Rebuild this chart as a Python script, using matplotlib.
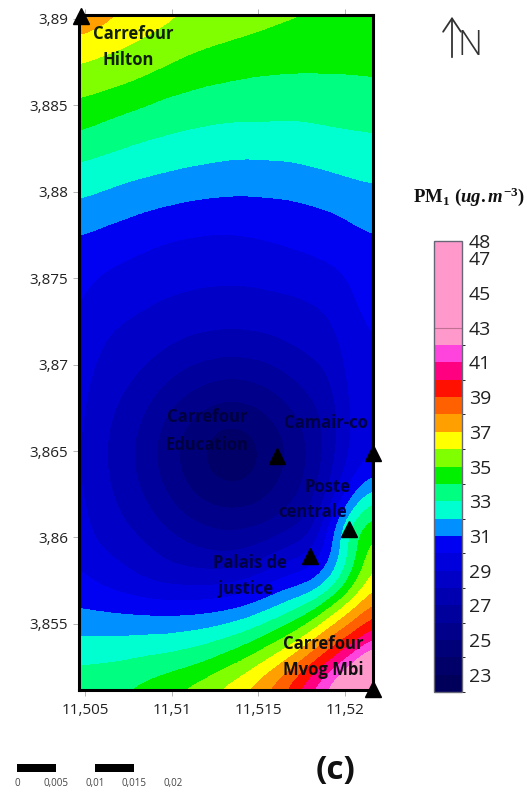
import numpy as np
import matplotlib
matplotlib.use("Agg")
import matplotlib.pyplot as plt
from matplotlib.colors import ListedColormap, BoundaryNorm
from matplotlib.cm import ScalarMappable
from matplotlib.patches import FancyArrowPatch

W, H = 527, 792

# PM1 field, one list per longitude column (north to south)
col_01 = [38.0,36.7,35.9,35.1,34.3,33.4,32.6,31.9,31.1,30.6,30.3,30.0,29.8,29.6,29.4,29.3,29.2,29.2,29.3,29.5,29.8,30.3,31.0,32.0,32.9,33.8]
col_02 = [37.5,36.4,35.7,34.9,34.0,33.2,32.4,31.7,30.9,30.4,29.75,29.4,29.1,28.8,28.5,28.35,28.2,28.25,28.4,28.6,29.2,29.9,30.9,32.0,33.0,33.9]
col_03 = [37.0,36.2,35.5,34.7,33.7,33.0,32.2,31.5,30.7,30.1,29.55,29.2,28.8,28.45,28.1,27.75,27.55,27.6,27.9,28.2,28.8,29.5,30.8,32.0,33.1,34.0]
col_04 = [36.6,35.9,35.3,34.4,33.5,32.8,32.05,31.25,30.5,29.9,29.4,29.0,28.55,28.1,27.5,27.0,26.65,26.75,27.15,27.75,28.4,29.1,30.7,32.1,33.3,34.3]
col_05 = [36.3,35.65,35.0,34.05,33.35,32.65,31.9,31.1,30.3,29.7,29.25,28.8,28.3,27.6,26.8,26.05,25.65,25.8,26.35,27.1,27.9,28.8,30.6,32.1,33.5,34.7]
col_06 = [36.0,35.4,34.7,33.9,33.2,32.5,31.75,30.95,30.15,29.6,29.15,28.6,28.0,27.15,26.1,25.15,24.75,24.85,25.5,26.55,27.5,28.7,30.6,32.3,33.7,35.2]
col_07 = [35.8,35.2,34.45,33.75,33.1,32.4,31.65,30.85,30.05,29.6,29.05,28.5,27.85,26.8,25.6,24.55,23.9,24.1,24.9,26.1,27.2,28.7,30.7,32.5,34.1,35.7]
col_08 = [35.65,35.0,34.35,33.65,33.0,32.3,31.55,30.8,30.0,29.6,29.0,28.45,27.75,26.6,25.3,24.2,23.3,23.6,24.65,25.85,27.1,28.8,30.9,32.9,34.7,36.4]
col_09 = [35.5,34.85,34.2,33.6,33.0,32.25,31.5,30.8,30.05,29.7,29.0,28.45,27.8,26.65,25.4,24.3,23.5,23.75,24.7,25.95,27.3,29.2,31.3,33.4,35.4,37.1]
col_10 = [35.3,34.7,34.15,33.55,33.0,32.3,31.55,30.85,30.1,29.8,29.1,28.55,27.9,26.9,25.8,24.8,24.3,24.45,25.1,26.25,27.9,29.9,31.9,34.2,36.4,38.1]
col_11 = [35.15,34.6,34.1,33.55,32.95,32.3,31.6,30.9,30.2,29.9,29.2,28.65,28.15,27.35,26.4,25.55,25.1,25.2,25.85,26.8,28.6,30.5,32.7,35.1,37.5,39.3]
col_12 = [35.05,34.55,34.1,33.55,33.0,32.4,31.75,31.05,30.3,30.0,29.3,28.85,28.4,27.8,27.1,26.5,26.1,26.2,26.65,27.45,29.2,30.8,33.6,36.5,38.9,41.0]
col_13 = [34.95,34.5,34.1,33.6,33.1,32.5,31.9,31.25,30.45,30.2,29.45,29.1,28.65,28.2,27.75,27.4,27.6,27.9,28.7,30.7,30.8,32.1,35.4,38.0,40.4,42.5]
col_14 = [34.9,34.5,34.1,33.65,33.15,32.6,32.05,31.45,30.85,30.4,30.1,29.9,29.7,29.5,29.4,29.3,29.3,29.8,31.4,33.7,33.5,34.5,37.0,39.2,41.9,44.5]
col_15 = [34.85,34.45,34.15,33.7,33.2,32.7,32.15,31.6,31.05,30.7,30.4,30.2,30.0,29.9,29.8,29.8,30.0,30.7,33.1,34.7,35.8,36.6,38.4,40.6,44.0,47.5]
columns = [col_01,col_02,col_03,col_04,col_05,col_06,col_07,col_08,col_09,col_10,col_11,col_12,col_13,col_14,col_15]

levels = [22,23,24,25,26,27,28,29,30,31,32,33,34,35,36,37,38,39,40,41,42,43,48]
band_colors = ["#00005a","#000068","#000078","#00008a","#00009c","#0000b0","#0000c6","#0000dc","#0000f2",
               "#0090ff","#00ffd0","#00ff80","#00f000","#80ff00","#ffff00","#ffa000","#ff6000","#ff1000",
               "#ff0080","#ff44dd","#ff99cc","#ff99cc"]
cbar_ticks = [48,47,45,43,41,39,37,35,33,31,29,27,25,23]

x_ticks = [11.505, 11.51, 11.515, 11.52]
x_tick_labels = ["11,505", "11,51", "11,515", "11,52"]
y_ticks = [3.855, 3.86, 3.865, 3.87, 3.875, 3.88, 3.885, 3.89]
y_tick_labels = ["3,855", "3,86", "3,865", "3,87", "3,875", "3,88", "3,885", "3,89"]

station_lon = [11.50475, 11.5161, 11.52161, 11.5202, 11.5180, 11.52161]
station_lat = [3.8902, 3.8647, 3.8649, 3.8605, 3.8589, 3.8512]

scale_values = [0, 0.005, 0.01, 0.015, 0.02]
scale_labels = ["0", "0,005", "0,01", "0,015", "0,02"]

SANS = ["Open Sans", "DejaVu Sans"]
plt.rcParams["font.family"] = SANS
plt.rcParams["mathtext.fontset"] = "custom"
plt.rcParams["mathtext.rm"] = "Liberation Serif:bold"
plt.rcParams["mathtext.it"] = "Liberation Serif:italic:bold"

fig = plt.figure(figsize=(W/100, H/100), dpi=100, facecolor="white")

def box(x0, y0, x1, y1):
    return [x0/W, 1-y1/H, (x1-x0)/W, (y1-y0)/H]

def txt(x, y, s, **kw):
    kw.setdefault("ha", "center")
    kw.setdefault("va", "center")
    return fig.text(x/W, 1-y/H, s, **kw)

# Map
ax = fig.add_axes(box(79, 15, 373, 690))
lon0, lon1, lat0, lat1 = 11.50465, 11.52161, 3.85117, 3.89023
Z = np.array(columns).T
dx = (lon1-lon0)/(Z.shape[1]-1)
dy = (lat1-lat0)/(Z.shape[0]-1)
cmap = ListedColormap(band_colors)
norm = BoundaryNorm(levels, cmap.N)
ax.imshow(Z, extent=[lon0-dx/2, lon1+dx/2, lat0-dy/2, lat1+dy/2], origin="upper",
          cmap=cmap, norm=norm, interpolation="bicubic", interpolation_stage="data", aspect="auto")
ax.set_xlim(lon0, lon1)
ax.set_ylim(lat0, lat1)
ax.set_xticks(x_ticks, x_tick_labels)
ax.set_yticks(y_ticks, y_tick_labels)
ax.tick_params(axis="both", length=4, width=0.5, color="#999999", labelsize=11,
               labelcolor="#222222", top=True)
ax.tick_params(axis="y", pad=4)
ax.tick_params(axis="x", pad=5)
for s in ax.spines.values():
    s.set_linewidth(2.2)
    s.set_color("black")
ax.plot(station_lon, station_lat, ls="none", marker="^", ms=12, color="black", clip_on=False, zorder=5)

# Site labels
for x, y, s, c in [(133, 34, "Carrefour", "#102000"), (128, 60, "Hilton", "#102000"),
                   (207, 417, "Carrefour", "#000040"), (207, 445, "Education", "#000040"),
                   (326, 423, "Camair-co", "#000045"), (328, 487, "Poste", "#000045"),
                   (313, 512, "centrale", "#000045"), (250, 563, "Palais de", "#000045"),
                   (246, 589, "justice", "#000045"), (323, 644, "Carrefour", "#101010"),
                   (323, 670, "Mvog Mbi", "#101010")]:
    txt(x, y, s, fontsize=12, fontweight="bold", color=c)

# Colour bar
cax = fig.add_axes(box(434, 241, 462, 692))
sm = ScalarMappable(norm=norm, cmap=cmap)
cb = fig.colorbar(sm, cax=cax, ticks=cbar_ticks, spacing="proportional", drawedges=False)
cb.ax.tick_params(length=0, labelsize=14, labelcolor="#222222", pad=5)
cb.outline.set_edgecolor("#666677")
cb.outline.set_linewidth(1)
cax.axhline(43, color="#c07090", lw=0.8)

txt(469, 197, r"$\mathrm{PM_1}\ (\mathit{ug.m^{-3}})$", fontsize=13.5, color="#111111")

# North arrow
fig.add_artist(FancyArrowPatch((452/W, 1-60/H), (452/W, 1-14/H), transform=fig.transFigure,
               arrowstyle="->,head_length=6,head_width=4", lw=1.3, color="#333333", mutation_scale=1.6))
txt(470, 46, "N", fontsize=25, fontweight="light", color="#333333")

# Scale bar
sax = fig.add_axes(box(17, 764, 173, 772))
sax.set_xlim(scale_values[0], scale_values[-1])
sax.set_ylim(0, 1)
sax.axis("off")
sax.barh(0.5, scale_values[1]-scale_values[0], left=scale_values[0], height=1, align="center", color="black")
sax.barh(0.5, scale_values[3]-scale_values[2], left=scale_values[2], height=1, align="center", color="black")
for v, s in zip(scale_values, scale_labels):
    sax.annotate(s, (v, 0), xytext=(0, -8), textcoords="offset points", ha="center", va="center",
                 fontsize=7, color="#444444", annotation_clip=False)

txt(336, 771, "(c)", fontsize=24, fontweight="bold", color="#111111")

fig.savefig("out.png", dpi=100, facecolor="white")
